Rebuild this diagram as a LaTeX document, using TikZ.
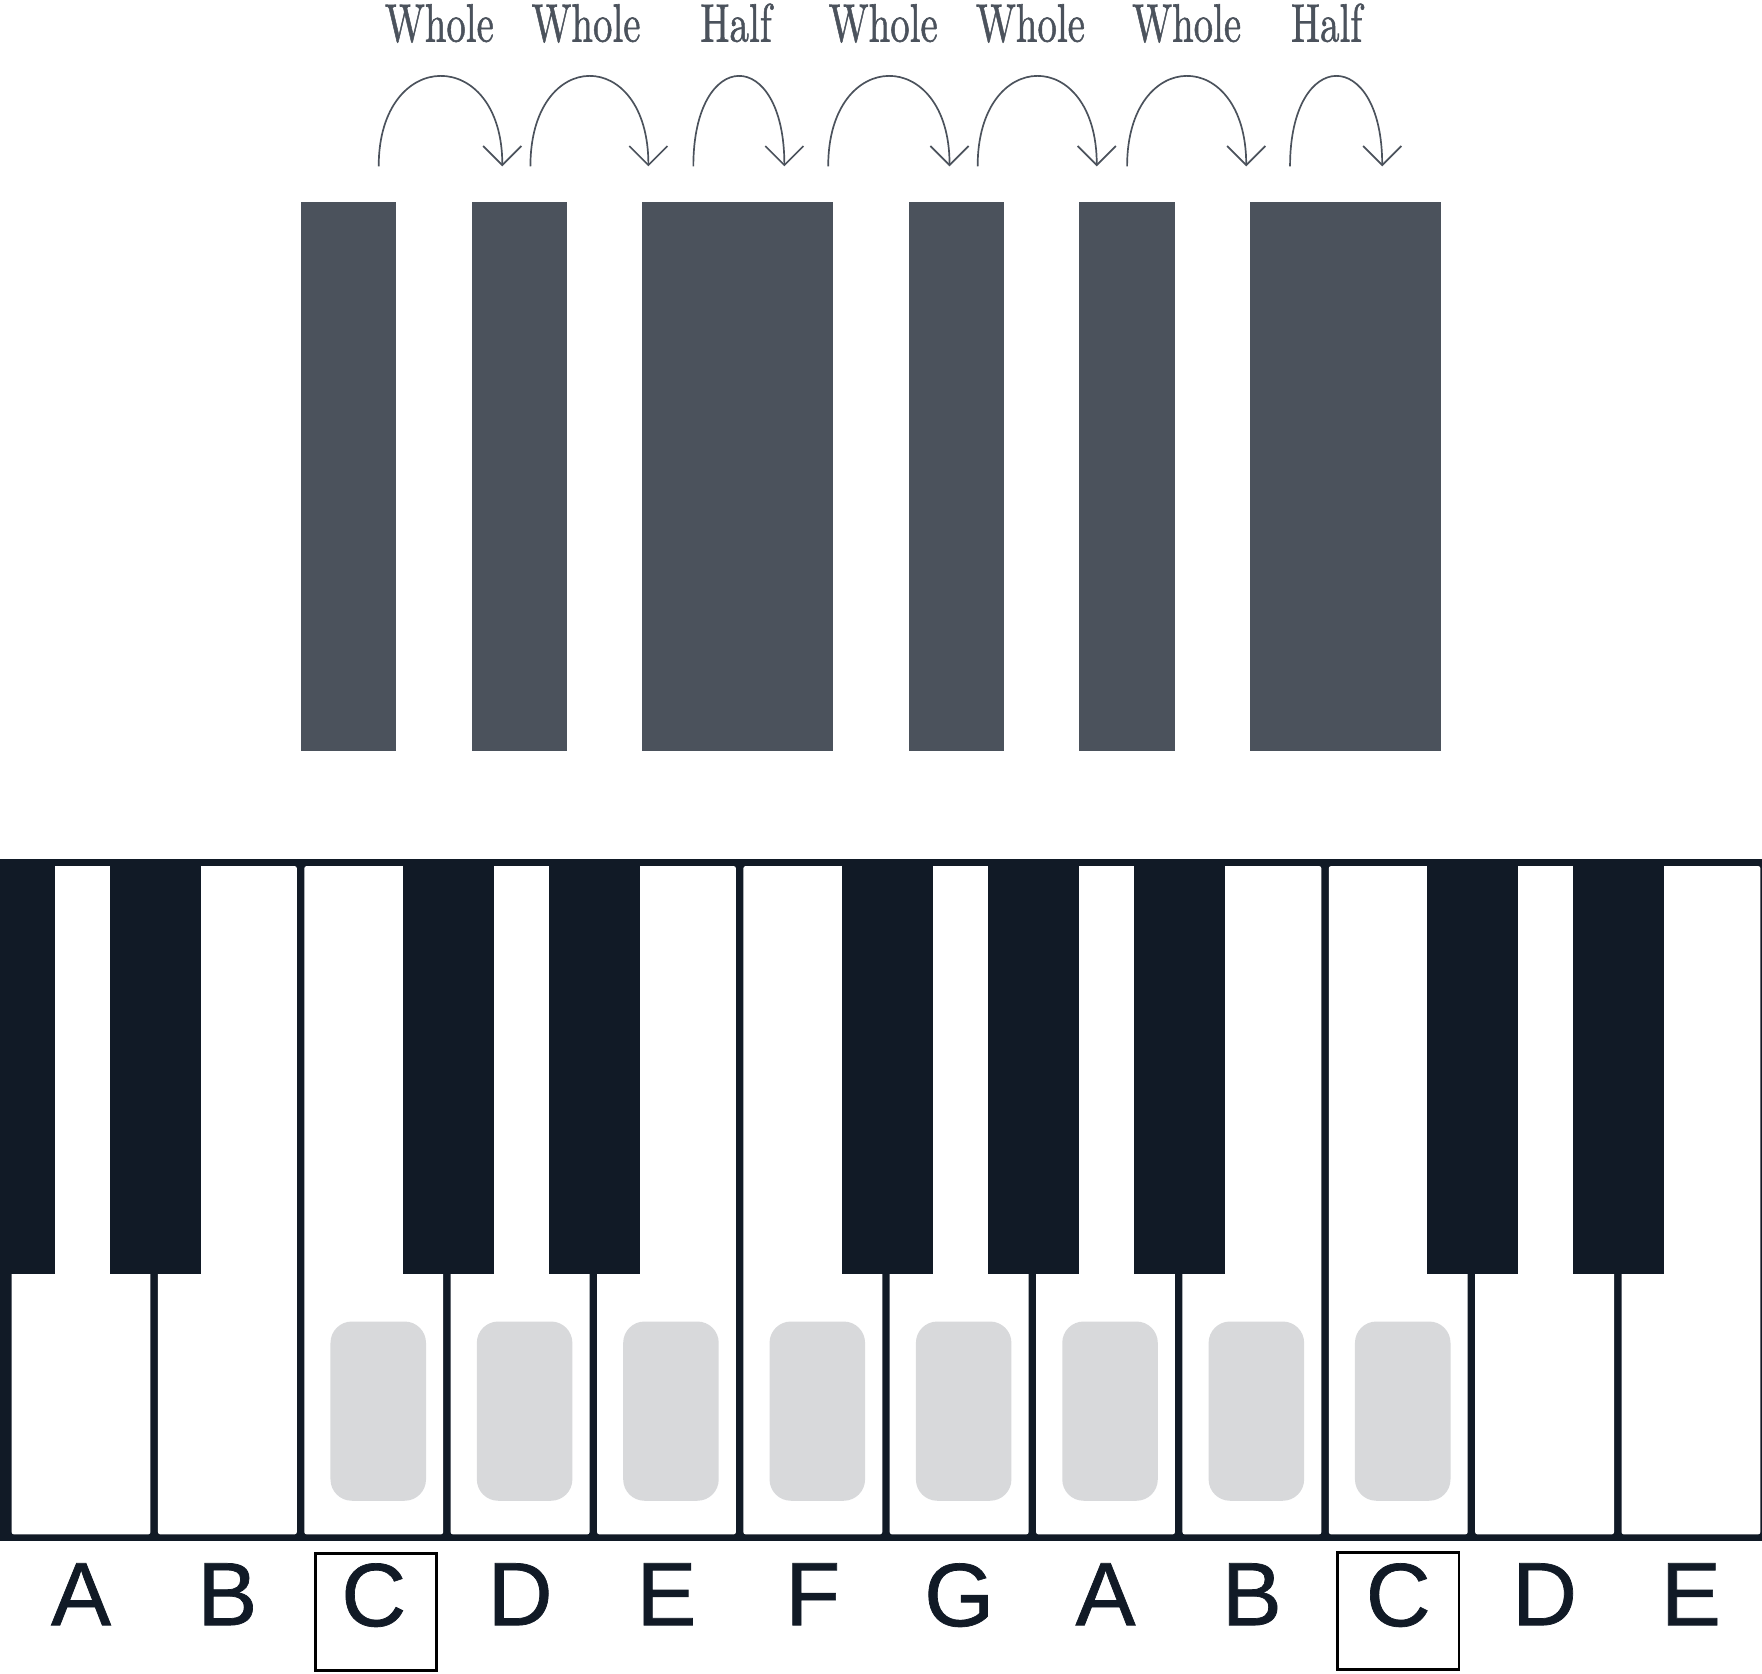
\documentclass[tikz,border=0pt]{standalone}
\usepackage{fontspec}
\usepackage{graphicx}
\usepackage{tikz}
\newfontfamily\keyfont{Liberation Sans}[FakeBold=0.8]
\newfontfamily\labelfont{lmroman10-regular.otf}[FakeBold=1.2]
\definecolor{stepgray}{RGB}{75, 82, 92}
\definecolor{keyblack}{RGB}{17, 26, 38}
\definecolor{padgray}{RGB}{216, 217, 219}
\usetikzlibrary{
  arrows.meta,
  positioning,
}
\tikzset{
  >={Straight Barb[length=17pt,width=34pt]},
  stepbar/.style={rectangle,fill=stepgray,minimum height=488.5pt,inner sep=0,outer sep=0},
  steplabel/.style={text=stepgray,anchor=base,inner sep=0,font=\labelfont\fontsize{48pt}{48pt}\selectfont},
  jump/.style={draw=stepgray,line width=1.5pt,->},
  whitekey/.style={rectangle,fill=white,rounded corners=2pt,minimum width=123.6pt,minimum height=594.7pt,inner sep=0,outer sep=0},
  blackkey/.style={rectangle,fill=keyblack,minimum width=81pt,minimum height=369.3pt,inner sep=0,outer sep=0},
  pad/.style={rectangle,fill=padgray,rounded corners=19pt,minimum width=85pt,minimum height=159.5pt,inner sep=0},
  keyletter/.style={text=keyblack,inner sep=0,font=\keyfont\fontsize{80pt}{80pt}\selectfont},
  cbox/.style={draw=black,line width=2.4pt,minimum width=108pt,minimum height=104pt,inner sep=0},
}
\newcommand\stepword[1]{\scalebox{0.72}[1]{#1}}

\begin{document}
\begin{tikzpicture}[node distance=0mm and 67pt,x=1pt,y=-1pt]

      \useasboundingbox (0,0) rectangle (1568,1489);

      % steps of the scale
      \node[stepbar,minimum width=85pt]     (b1)  at (310.1,423.75) {};
      \node[stepbar,minimum width=85pt]     (b2)  [right=of b1]     {};
      \node[stepbar,minimum width=170pt]    (b3)  [right=of b2]     {};
      \node[stepbar,minimum width=85pt]     (b4)  [right=of b3]     {};
      \node[stepbar,minimum width=85pt]     (b5)  [right=of b4]     {};
      \node[stepbar,minimum width=170pt]    (b6)  [right=of b5]     {};

      \foreach \s/\e/\lx/\t [count=\k] in {337/447/391/Whole,472/577/521.5/Whole,617/698/655/Half,737/845/786/Whole,870/976/917/Whole,1003/1109/1056/Whole,1148/1230/1180.5/Half} {
        \coordinate (j\k s) at (\s,148);
        \coordinate (j\k e) at (\e,148);
        \node[steplabel] (l\k) at (\lx,37) {\stepword{\t}};
        \draw[jump] (j\k s) .. controls +(0,-107) and +(0,-107) .. (j\k e);
      }

      % keyboard
      \fill[keyblack] (0,764.7) rectangle (1568,1371.4);
      \node[whitekey] (wk0) at (72.12,1068.05) {};
      \foreach \i [remember=\i as \j (initially 0)] in {1,...,11}
        \node[whitekey] (wk\i) [right=6.64pt of wk\j] {};

      \foreach \b in {0,1,3,4,6,7,8,10,11}
        \node[blackkey] (bk\b) at ({8+130.24*\b},949.35) {};

      \foreach \i in {2,...,9}
        \node[pad,xshift=4pt,yshift=-187.7pt] (p\i) at (wk\i) {};

      \foreach \n [count=\i from 0] in {A,B,C,D,E,F,G,A,B,C,D,E}
        \node[keyletter] (n\i) [below=25.6pt of wk\i] {\n};

      \node[cbox,xshift=2pt,yshift=-15pt] (c1) at (n2) {};
      \node[cbox,xshift=0pt,yshift=-14pt] (c2) at (n9) {};

    \end{tikzpicture}
\end{document}
